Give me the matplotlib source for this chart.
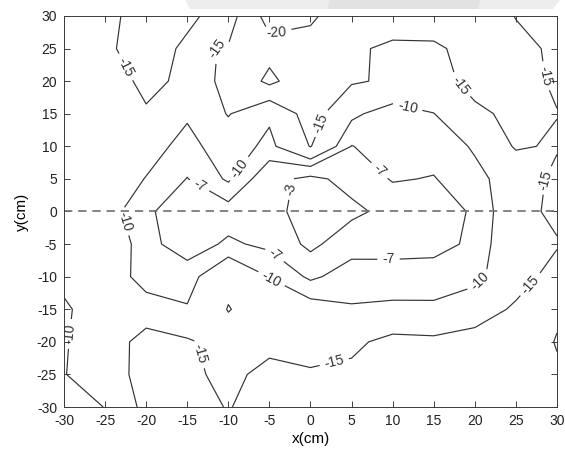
import numpy as np
import matplotlib
matplotlib.use("Agg")
import matplotlib.pyplot as plt
from matplotlib.patches import Polygon

plt.rcParams["font.family"] = ["Liberation Sans", "DejaVu Sans"]
plt.rcParams["contour.negative_linestyle"] = "solid"
plt.rcParams["axes.unicode_minus"] = False

# grid nodes (cm)
x_cm = [-30, -25, -20, -15, -10, -5, 0, 5, 10, 15, 20, 25, 30]
y_cm = [30, 25, 20, 15, 10, 5, 0, -5, -10, -15, -20, -25, -30]

# values read row by row (top row y=30 first)
row_p30 = [-13.0, -13.5, -17.4, -15.9, -13.0, -22.0, -20.8, -16.8, -17.0, -17.0, -17.0, -14.9, -12.0]
row_p25 = [-13.0, -14.2, -17.1, -14.2, -15.3, -18.3, -18.1, -15.6, -14.3, -14.4, -16.3, -15.8, -14.5]
row_p20 = [-13.0, -13.5, -15.7, -14.4, -15.3, -21.2, -16.2, -15.5, -14.3, -14.0, -15.8, -16.3, -14.5]
row_p15 = [-13.0, -13.0, -14.7, -10.5, -15.3, -10.7, -17.2, -10.8, -8.1, -9.9, -14.5, -15.6, -15.1]
row_p10 = [-13.0, -12.5, -11.5, -8.8, -12.1, -9.0, -15.2, -6.9, -8.5, -8.5, -10.3, -15.5, -14.5]
row_p05 = [-13.0, -12.5, -9.85, -6.9, -10.5, -4.45, -1.9, -4.5, -7.3, -6.8, -9.3, -11.3, -16.5]
row_0 = [-12.0, -11.5, -7.8, -4.2, -5.5, -3.8, -1.9, -2.0, -4.4, -5.5, -7.4, -13.1, -16.2]
row_m05 = [-12.5, -13.7, -7.9, -5.5, -7.5, -6.3, -1.95, -5.7, -5.5, -6.0, -7.6, -13.7, -14.6]
row_m10 = [-11.0, -13.6, -7.8, -8.5, -13.8, -9.9, -6.4, -8.5, -8.7, -8.4, -9.0, -12.8, -17.0]
row_m15 = [-9.44, -12.2, -12.4, -10.3, -15.2, -12.5, -11.7, -10.3, -10.5, -10.6, -12.3, -15.8, -19.2]
row_m20 = [-9.7, -12.2, -16.9, -15.6, -13.0, -13.6, -13.5, -14.0, -16.4, -16.0, -17.1, -16.5, -20.3]
row_m25 = [-9.8, -13.0, -16.45, -16.0, -13.8, -16.4, -15.4, -16.0, -17.0, -17.5, -17.5, -17.0, -19.3]
row_m30 = [-9.0, -10.05, -16.4, -16.5, -14.8, -16.8, -16.5, -16.5, -17.0, -17.5, -17.0, -17.0, -18.0]

levels = [-20, -15, -10, -7, -3]

Z = np.array([row_p30, row_p25, row_p20, row_p15, row_p10, row_p05, row_0,
              row_m05, row_m10, row_m15, row_m20, row_m25, row_m30])
X, Y = np.meshgrid(x_cm, y_cm)

fig = plt.figure(figsize=(5.65, 4.54), dpi=100)
ax = fig.add_axes([0.1133, 0.1035, 0.8725, 0.8613])

cs = ax.contour(X, Y, Z, levels=levels, colors="#333333", linewidths=0.85)

# label positions, roughly where the reference puts them
label_pos = [(-4.1, 27.3), (-22.9, 21.9), (-12.0, 25.0), (1.4, 13.5), (18.0, 19.1),
             (28.1, 20.7), (28.3, 4.9), (26.5, -10.9), (3.0, -23.7), (-13.6, -21.9),
             (-8.5, 6.4), (11.7, 15.3), (-22.7, -1.5), (-4.7, -10.2), (20.6, -10.7),
             (-29.2, -18.8), (-13.6, 3.8), (8.1, 5.9), (-4.5, -6.9), (9.5, -7.1),
             (-1.6, 3.3)]
ax.clabel(cs, inline=True, fmt="%d", fontsize=10, manual=label_pos, inline_spacing=5)

ax.axhline(0, color="#6e6e6e", ls=(0, (5, 3.5)), lw=1.2)

ax.set_xlim(-30, 30)
ax.set_ylim(-30, 30)
ax.set_xticks(range(-30, 31, 5))
ax.set_yticks(range(-30, 31, 5))
ax.tick_params(direction="in", top=True, right=True, length=4, width=0.6,
               labelsize=10, colors="#222222", pad=5)
for s in ax.spines.values():
    s.set_linewidth(0.7)
    s.set_color("#3a3a3a")
ax.set_xlabel("x(cm)", fontsize=11, labelpad=3)
ax.set_ylabel("y(cm)", fontsize=11, labelpad=6)

# light grey strip at the very top of the screenshot
fig.patches.append(Polygon([[185 / 565, 1], [560 / 565, 1], [553 / 565, 1 - 9 / 454],
                            [190 / 565, 1 - 9 / 454]], closed=True, transform=fig.transFigure,
                           facecolor="#ededed", edgecolor="none"))
fig.patches.append(Polygon([[330 / 565, 1], [480 / 565, 1], [478 / 565, 1 - 9 / 454],
                            [327 / 565, 1 - 9 / 454]], closed=True, transform=fig.transFigure,
                           facecolor="#e2e2e2", edgecolor="none"))

fig.savefig("out.png", dpi=100)
